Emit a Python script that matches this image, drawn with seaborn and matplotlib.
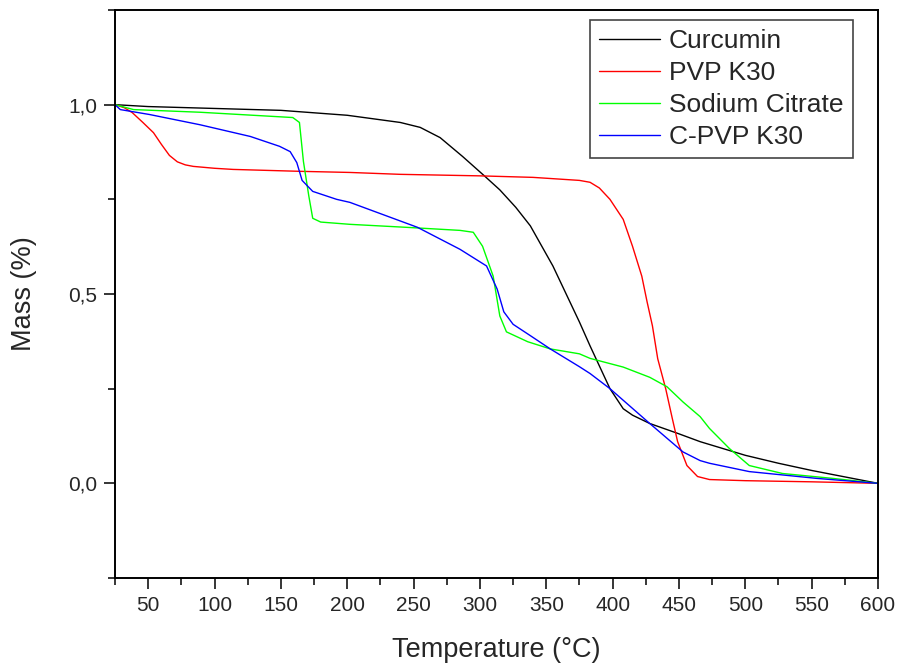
import pandas as pd
import numpy as np
import matplotlib.pyplot as plt
import seaborn as sns
from matplotlib.ticker import MultipleLocator, FuncFormatter

curcumin_t = [25, 50, 100, 150, 200, 240, 255, 270, 287, 304, 315, 327, 338, 355, 375,
              383, 398, 408, 415, 428, 449, 466, 500, 525, 550, 575, 600]
curcumin_m = [1.0, 0.995, 0.99, 0.985, 0.972, 0.953, 0.94, 0.913, 0.863, 0.81, 0.775, 0.729, 0.68, 0.574, 0.426,
              0.363, 0.25, 0.197, 0.18, 0.158, 0.132, 0.11, 0.074, 0.053, 0.034, 0.017, 0.0]

pvp_t = [25, 32, 38, 46, 54, 60, 66, 72, 78, 84, 100, 114, 164, 202, 240, 300, 340, 375, 383, 390,
         398, 408, 415, 422, 426, 430, 434, 440, 445, 449, 456, 464, 473, 500, 550, 600]
pvp_m = [1.0, 0.992, 0.979, 0.953, 0.926, 0.895, 0.866, 0.849, 0.841, 0.837, 0.832, 0.829, 0.824, 0.821, 0.816, 0.812,
         0.808, 0.80, 0.795, 0.78, 0.75, 0.697, 0.626, 0.547, 0.479, 0.416, 0.329, 0.25, 0.171, 0.11, 0.047, 0.018,
         0.01, 0.007, 0.004, 0.0]

citrate_t = [25, 39, 89, 159, 164, 167, 171, 174, 180, 202, 245, 285, 295, 302, 310, 315,
             320, 336, 353, 375, 383, 408, 428, 441, 453, 466, 473, 488, 503, 528, 566, 600]
citrate_m = [1.0, 0.987, 0.98, 0.966, 0.953, 0.85, 0.76, 0.70, 0.69, 0.684, 0.676, 0.668, 0.663, 0.626, 0.547, 0.442,
             0.40, 0.374, 0.355, 0.342, 0.33, 0.307, 0.28, 0.255, 0.215, 0.176, 0.145, 0.092, 0.047, 0.026, 0.013, 0.0]

cpvp_t = [25, 29, 51, 89, 127, 149, 157, 162, 166, 174, 192, 202, 253, 285, 305, 313,
          318, 325, 338, 353, 375, 383, 398, 428, 453, 466, 473, 503, 554, 600]
cpvp_m = [1.0, 0.987, 0.974, 0.947, 0.916, 0.89, 0.876, 0.847, 0.80, 0.771, 0.75, 0.742, 0.676, 0.618, 0.574, 0.513,
          0.453, 0.42, 0.39, 0.355, 0.308, 0.29, 0.25, 0.158, 0.083, 0.06, 0.053, 0.031, 0.013, 0.0]

names = ['Curcumin', 'PVP K30', 'Sodium Citrate', 'C-PVP K30']
colors = ['#000000', '#ff0000', '#00ff00', '#0000ff']

frames = []
for name, t, m in zip(names, [curcumin_t, pvp_t, citrate_t, cpvp_t],
                      [curcumin_m, pvp_m, citrate_m, cpvp_m]):
    frames.append(pd.DataFrame({'T': t, 'mass': m, 'sample': name}))
df = pd.concat(frames, ignore_index=True)

sns.set_style('ticks')
plt.rcParams['font.family'] = ['Liberation Sans', 'DejaVu Sans']

fig = plt.figure(figsize=(8.97, 6.64), dpi=100)
ax = fig.add_axes([115 / 897, 1 - 578 / 664, 763 / 897, 568 / 664])

sns.lineplot(data=df, x='T', y='mass', hue='sample', hue_order=names,
             palette=dict(zip(names, colors)), estimator=None, sort=False,
             linewidth=1.0, ax=ax)

ax.set_xlim(25, 600)
ax.set_ylim(-0.25, 1.25)
ax.xaxis.set_major_locator(MultipleLocator(50))
ax.xaxis.set_minor_locator(MultipleLocator(25))
ax.yaxis.set_major_locator(MultipleLocator(0.5))
ax.yaxis.set_minor_locator(MultipleLocator(0.25))
ax.yaxis.set_major_formatter(FuncFormatter(lambda v, p: f'{v:.1f}'.replace('.', ',')))

ax.tick_params(which='major', direction='out', length=8, width=1.3, labelsize=15, pad=5,
               top=False, right=False)
ax.tick_params(which='minor', direction='out', length=5, width=1.3, top=False, right=False)
for s in ax.spines.values():
    s.set_linewidth(1.4)
    s.set_color('black')

ax.set_xlabel('Temperature (°C)', fontsize=19.5, labelpad=16)
ax.set_ylabel('Mass (%)', fontsize=19.5, labelpad=22)

handles, labels = ax.get_legend_handles_labels()
leg = ax.legend(handles, labels, loc='upper right', bbox_to_anchor=(0.967, 0.982),
                borderaxespad=0, fontsize=19, frameon=True, fancybox=False,
                edgecolor='#444444', framealpha=1, handlelength=2.3,
                handletextpad=0.35, labelspacing=0.3, borderpad=0.35)
leg.get_frame().set_linewidth(1.2)

fig.savefig('out.png', dpi=100)
